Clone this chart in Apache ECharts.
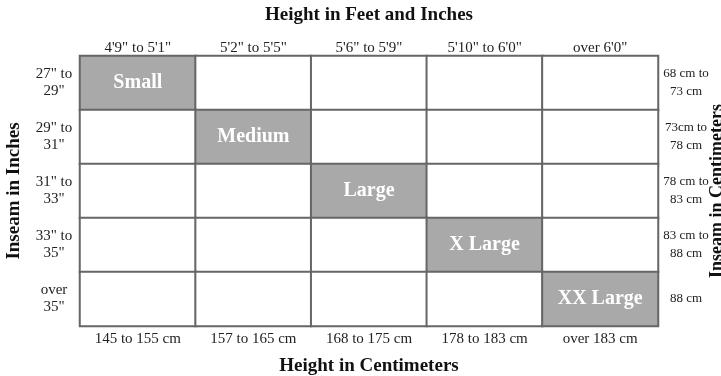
<!DOCTYPE html>
<html>
<head>
<meta charset="utf-8">
<script src="https://cdn.jsdelivr.net/npm/echarts@6/dist/echarts.min.js"></script>
<style>html,body{margin:0;padding:0;background:#fff;}#c{width:721px;height:376px;}</style>
</head>
<body>
<div id="c"></div>
<script>
var heightCm = ['145 to 155 cm', '157 to 165 cm', '168 to 175 cm', '178 to 183 cm', 'over 183 cm'];
var heightFtIn = ['4\'9" to 5\'1"', '5\'2" to 5\'5"', '5\'6" to 5\'9"', '5\'10" to 6\'0"', 'over 6\'0"'];
var inseamIn = ['27" to\n29"', '29" to\n31"', '31" to\n33"', '33" to\n35"', 'over\n35"'];
var inseamCm = ['68 cm to\n73 cm', '73cm to\n78 cm', '78 cm to\n83 cm', '83 cm to\n88 cm', '88 cm'];
var sizeNames = ['Small', 'Medium', 'Large', 'X Large', 'XX Large'];
var sizeCol = [0, 1, 2, 3, 4];
var sizeRow = [0, 1, 2, 3, 4];

var FONT = 'Liberation Serif';
var cells = [];
for (var r = 0; r < inseamIn.length; r++) {
  for (var c = 0; c < heightCm.length; c++) {
    var name = '';
    for (var k = 0; k < sizeNames.length; k++) {
      if (sizeCol[k] === c && sizeRow[k] === r) name = sizeNames[k];
    }
    cells.push({ name: name, value: [c, r, name ? 1 : 0] });
  }
}

var titleStyle = { fontFamily: FONT, fontSize: 19, fontWeight: 'bold', color: '#111' };
var chart = echarts.init(document.getElementById('c'));
chart.setOption({
  animation: false,
  grid: { left: 80, right: 63, top: 56, bottom: 50, outerBoundsMode: 'none', containLabel: false },
  visualMap: {
    type: 'piecewise', show: false, dimension: 2,
    pieces: [{ value: 0, color: '#ffffff' }, { value: 1, color: '#a9a9a9' }]
  },
  xAxis: [{
    type: 'category', position: 'bottom', data: heightCm,
    axisLine: { show: false }, axisTick: { show: false }, splitLine: { show: false },
    axisLabel: { fontFamily: FONT, fontSize: 15, color: '#222', margin: 6 },
    name: 'Height in Centimeters', nameLocation: 'middle', nameGap: 31, nameMoveOverlap: false,
    nameTextStyle: titleStyle
  }, {
    type: 'category', position: 'top', data: heightFtIn,
    axisLine: { show: false }, axisTick: { show: false }, splitLine: { show: false },
    axisLabel: { fontFamily: FONT, fontSize: 15, color: '#222', margin: 0 },
    name: 'Height in Feet and Inches', nameLocation: 'middle', nameGap: 31, nameMoveOverlap: false,
    nameTextStyle: titleStyle
  }],
  yAxis: [{
    type: 'category', position: 'left', inverse: true, data: inseamIn,
    axisLine: { show: false }, axisTick: { show: false }, splitLine: { show: false },
    axisLabel: { fontFamily: FONT, fontSize: 15, color: '#222', align: 'center', margin: 26, lineHeight: 17 },
    name: 'Inseam in Inches', nameLocation: 'middle', nameGap: 56, nameMoveOverlap: false,
    nameTextStyle: titleStyle
  }, {
    type: 'category', position: 'right', inverse: true, data: inseamCm,
    axisLine: { show: false }, axisTick: { show: false }, splitLine: { show: false },
    axisLabel: { fontFamily: FONT, fontSize: 13, color: '#222', align: 'center', margin: 28, lineHeight: 18 },
    name: 'Inseam in Centimeters', nameLocation: 'middle', nameGap: 50, nameMoveOverlap: false,
    nameTextStyle: { fontFamily: FONT, fontSize: 18, fontWeight: 'bold', color: '#111' }
  }],
  series: [{
    type: 'heatmap', xAxisIndex: 0, yAxisIndex: 0,
    data: cells,
    itemStyle: { borderColor: '#666', borderWidth: 2 },
    label: {
      show: true, color: '#fff', fontFamily: FONT, fontSize: 20, fontWeight: 'bold',
      formatter: function (p) { return p.name; }
    },
    emphasis: { disabled: true }
  }]
});
</script>
</body>
</html>
